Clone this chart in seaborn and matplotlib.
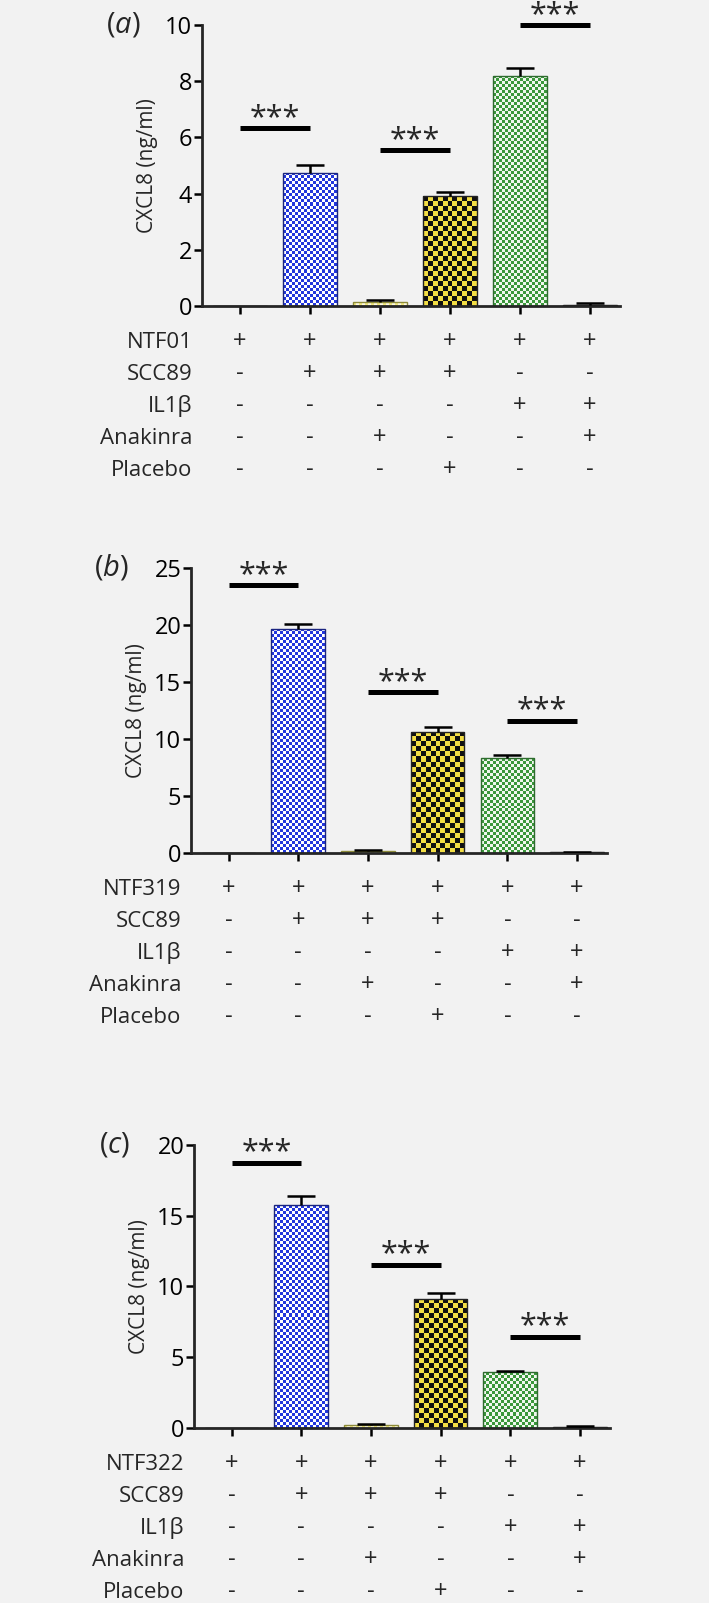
import numpy as np
import pandas as pd
import matplotlib
matplotlib.use('Agg')
import matplotlib.pyplot as plt
import seaborn as sns

sns.set_style('ticks')
plt.rcParams['font.family'] = ['Open Sans', 'DejaVu Sans']
plt.rcParams['mathtext.fontset'] = 'custom'
plt.rcParams['mathtext.rm'] = 'Open Sans'
plt.rcParams['mathtext.it'] = 'Open Sans:italic'
BG = '#f2f2f2'

#%% data
groups = ['NTF', 'NTF+SCC89', 'NTF+SCC89+Anakinra', 'NTF+SCC89+Placebo',
          'NTF+IL1b', 'NTF+IL1b+Anakinra']
row_labels_a = ['NTF01', 'SCC89', 'IL1β', 'Anakinra', 'Placebo']
row_labels_b = ['NTF319', 'SCC89', 'IL1β', 'Anakinra', 'Placebo']
row_labels_c = ['NTF322', 'SCC89', 'IL1β', 'Anakinra', 'Placebo']
signs = [['+', '+', '+', '+', '+', '+'],
         ['-', '+', '+', '+', '-', '-'],
         ['-', '-', '-', '-', '+', '+'],
         ['-', '-', '+', '-', '-', '+'],
         ['-', '-', '-', '+', '-', '-']]

mean_a = [0, 4.75, 0.15, 3.9, 8.2, 0.05]
sem_a = [0, 0.27, 0.05, 0.15, 0.28, 0.05]
mean_b = [0, 19.65, 0.15, 10.65, 8.3, 0.05]
sem_b = [0, 0.4, 0.1, 0.37, 0.26, 0.03]
mean_c = [0, 15.75, 0.2, 9.12, 3.92, 0.07]
sem_c = [0, 0.65, 0.08, 0.4, 0.12, 0.08]

sig_pairs = [(0, 1), (2, 3), (4, 5)]
sig_a = [6.32, 5.55, 10.0]
sig_b = [23.5, 14.1, 11.6]
sig_c = [18.75, 11.55, 6.45]

# checker colours (c1, c2, cell px, edge)
patterns = [('white', 'white', 3, 'black'),
            ('#2236dc', '#ffffff', 3, '#1a2480'),
            ('#f2ea80', '#fffbe2', 3, '#8c8a3a'),
            ('#f3de45', '#111111', 5, '#222222'),
            ('#3a973a', '#f0f7ee', 3, '#2e6b2e'),
            ('#111111', '#333333', 3, '#111111')]

#%%
fig = plt.figure(figsize=(7.09, 16.03), dpi=100, facecolor=BG)


def checker(ax, patch, c1, c2, cell):
    x0, y0 = patch.get_x(), patch.get_y()
    w, h = patch.get_width(), patch.get_height()
    if h <= 0:
        return
    (px0, py0), (px1, py1) = ax.transData.transform([(x0, y0), (x0 + w, y0 + h)])
    nx = max(1, int(round(abs(px1 - px0) / cell)))
    ny = max(1, int(round(abs(py1 - py0) / cell)))
    a = np.array(matplotlib.colors.to_rgb(c1))
    b = np.array(matplotlib.colors.to_rgb(c2))
    ii, jj = np.indices((ny, nx))
    mask = ((ii + jj) % 2 == 0)[..., None]
    img = np.where(mask, a, b)
    im = ax.imshow(img, extent=(x0, x0 + w, y0, y0 + h), origin='lower',
                   interpolation='nearest', aspect='auto', zorder=1.5)
    im.set_clip_path(patch)
    patch.set_facecolor('none')
    patch.set_zorder(2)


def panel(pos, means, sems, sigs, ymax, ystep, rows, letter):
    ax = fig.add_axes(pos)
    ax.set_facecolor(BG)
    df = pd.DataFrame({'group': groups, 'CXCL8': means})
    sns.barplot(data=df, x='group', y='CXCL8', order=groups, color='white',
                width=0.77, errorbar=None, ax=ax, linewidth=1.0)
    ax.set_xlim(-0.54, 5.43)
    ax.set_ylim(0, ymax)
    for p, (c1, c2, cell, ec) in zip(ax.patches, patterns):
        p.set_edgecolor(ec)
        checker(ax, p, c1, c2, cell)
    ax.set_xlim(-0.54, 5.43)
    ax.set_ylim(0, ymax)

    # upper error bars only
    x = np.arange(len(means))
    m = np.array(means)
    s = np.array(sems)
    keep = s > 0
    ax.vlines(x[keep], m[keep], m[keep] + s[keep], color='black', lw=1.8, zorder=3)
    ax.hlines(m[keep] + s[keep], x[keep] - 0.2, x[keep] + 0.2, color='black', lw=1.8, zorder=3)

    # significance bars
    for (i, j), h in zip(sig_pairs, sigs):
        ax.plot([i, j], [h, h], color='black', lw=3.6, solid_capstyle='butt',
                clip_on=False, zorder=4)
        ax.annotate('***', xy=((i + j) / 2, h), xytext=(0, 1.5), textcoords='offset points',
                    ha='center', va='baseline', fontsize=22, annotation_clip=False)

    ax.set_yticks(np.arange(0, ymax + 0.01, ystep))
    ax.set_xticks(x)
    ax.set_xticklabels([])
    ax.set_xlabel('')
    ax.set_ylabel('CXCL8 (ng/ml)', fontsize=15, labelpad=5)
    ax.tick_params(axis='both', length=6, width=1.8, labelsize=17, colors='black', pad=1)
    sns.despine(ax=ax)
    for sp in ['left', 'bottom']:
        ax.spines[sp].set_linewidth(2.0)

    # +/- table under the axis
    for r, lab in enumerate(rows):
        off = 30.5 + 22.9 * r
        ax.annotate(lab, xy=(0, 0), xycoords='axes fraction', xytext=(-7, -off),
                    textcoords='offset points', ha='right', va='baseline', fontsize=16)
        for k in range(len(groups)):
            ax.annotate(signs[r][k], xy=(k, 0), xycoords=('data', 'axes fraction'),
                        xytext=(0, -off), textcoords='offset points', ha='center',
                        va='baseline', fontsize=17)

    ax.annotate('($\\it{' + letter + '}$)', xy=(0, 1), xycoords='axes fraction',
                xytext=(-57, 0), textcoords='offset points', ha='center', va='center',
                fontsize=21)
    return ax


panel([0.2849, 0.8091, 0.5896, 0.1753], mean_a, sem_a, sig_a, 10, 2, row_labels_a, 'a')
panel([0.2694, 0.4679, 0.5867, 0.1778], mean_b, sem_b, sig_b, 25, 5, row_labels_b, 'b')
panel([0.2736, 0.1092, 0.5867, 0.1765], mean_c, sem_c, sig_c, 20, 5, row_labels_c, 'c')

fig.savefig('out.png', dpi=100, facecolor=BG)
